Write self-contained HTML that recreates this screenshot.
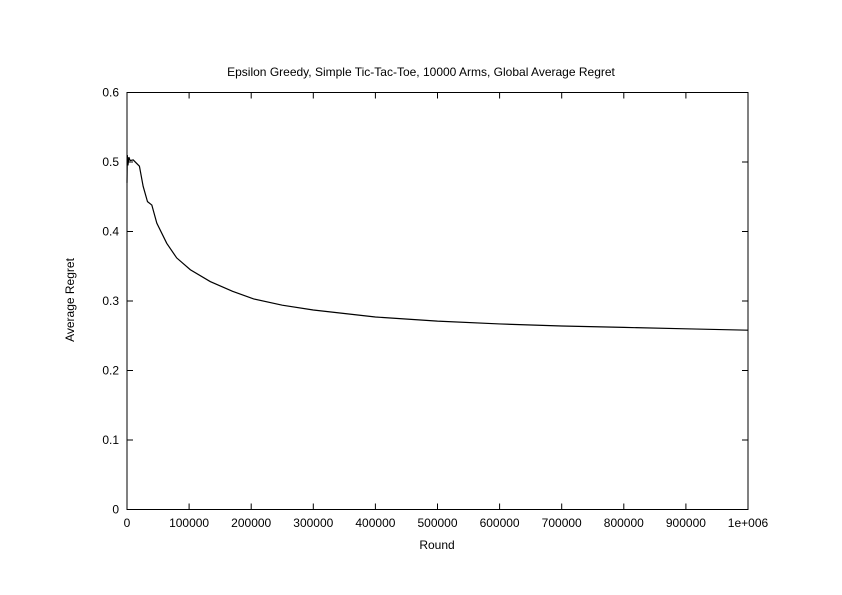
<!DOCTYPE html>
<html><head><meta charset="utf-8"><style>
body{margin:0;background:#fff}
svg{display:block;font-family:"Liberation Sans",sans-serif;font-size:12px}
</style></head><body>
<svg id="chart" width="842" height="595">
<rect width="842" height="595" fill="#fff"/>
<text x="421" y="76" text-anchor="middle">Epsilon Greedy, Simple Tic-Tac-Toe, 10000 Arms, Global Average Regret</text>
<text x="437" y="549" text-anchor="middle">Round</text>
<text transform="translate(74,300) rotate(-90)" text-anchor="middle">Average Regret</text>
<g id="ticks"></g>
<rect x="127" y="92.5" width="621" height="417" fill="none" stroke="#000"/>
<path id="line" fill="none" stroke="#000" stroke-width="1.2"/>
</svg>
<script>
const rounds=[0,500,1500,3000,5000,10000,20000,26000,33000,40000,48000,64000,80000,102000,134000,170000,204000,250000,300000,400000,500000,600000,700000,800000,900000,1000000];
const regret=[0.47,0.51,0.495,0.507,0.502,0.503,0.494,0.465,0.443,0.438,0.412,0.383,0.362,0.345,0.328,0.314,0.303,0.294,0.287,0.277,0.271,0.267,0.264,0.262,0.260,0.258];
const xTicks=[0,100000,200000,300000,400000,500000,600000,700000,800000,900000,1000000];
const xTickLabels=["0","100000","200000","300000","400000","500000","600000","700000","800000","900000","1e+006"];
const yTicks=[0,0.1,0.2,0.3,0.4,0.5,0.6];
const yTickLabels=["0","0.1","0.2","0.3","0.4","0.5","0.6"];
const L=127,R=748,T=92.5,B=509.5;
const X=v=>L+(v/1000000)*(R-L);
const Y=v=>B-(v/0.6)*(B-T);
const ns="http://www.w3.org/2000/svg";
const g=document.getElementById('ticks');
xTicks.forEach((t,i)=>{
  const x=X(t);
  const p=document.createElementNS(ns,'path');
  p.setAttribute('d',`M${x},${B}v-6M${x},${T}v6`);p.setAttribute('stroke','#000');
  
  
  g.appendChild(p);
  const tx=document.createElementNS(ns,'text');
  tx.setAttribute('x',x);tx.setAttribute('y',527);tx.setAttribute('text-anchor','middle');
  tx.textContent=xTickLabels[i];
  
  
  g.appendChild(tx);
});
yTicks.forEach((t,i)=>{
  const y=Y(t);
  const p=document.createElementNS(ns,'path');
  p.setAttribute('d',`M${L},${y}h6M${R},${y}h-6`);p.setAttribute('stroke','#000');
  
  
  g.appendChild(p);
  const tx=document.createElementNS(ns,'text');
  tx.setAttribute('x',119);tx.setAttribute('y',y+4);tx.setAttribute('text-anchor','end');
  tx.textContent=yTickLabels[i];
  
  
  g.appendChild(tx);
});
document.getElementById('line').setAttribute('d',rounds.map((r,i)=>(i?'L':'M')+X(r).toFixed(2)+','+Y(regret[i]).toFixed(2)).join(''));
</script>
</body></html>
